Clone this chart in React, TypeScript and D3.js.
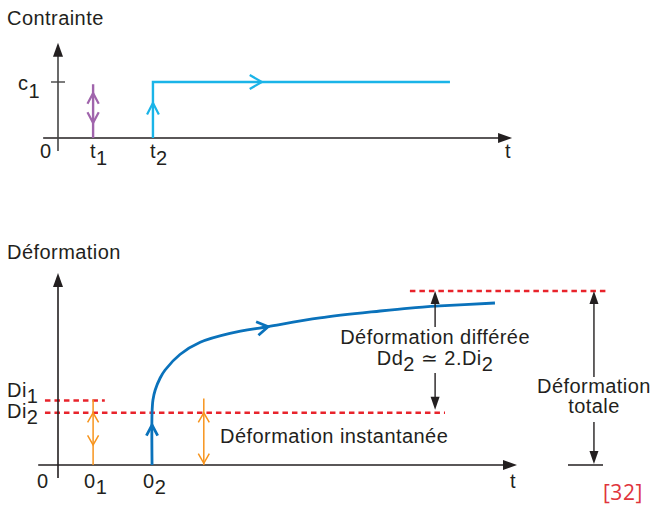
import React from "react";
import * as d3 from "d3";

// ---- data ----
const stressTimes = [0.78, 2.11]; // t1 (instant load/unload), t2 (sustained load)
const stressLabels = ["1", "2"];
const stressLevel = 1; // c1
const stressEnd = 8.71;

const loadTimes = [0.78, 2.09]; // 0_1, 0_2
const loadLabels = ["1", "2"];
const Di1 = 3.71;
const Di2 = 3.0;
const Dtot = 10;
const curveT = [2.09, 2.09, 2.11, 2.16, 2.27, 2.38, 2.71, 3.16, 3.82, 4.67, 5.82, 7.16, 7.82, 8.49, 9.71];
const curveD = [0, 3.0, 3.74, 4.31, 5.0, 5.46, 6.35, 7.05, 7.56, 7.95, 8.45, 8.85, 9.02, 9.14, 9.31];

const C_AXIS = "#231f20";
const C_PURPLE = "#a064ac";
const C_CYAN = "#1ab4e8";
const C_BLUE = "#0a72bb";
const C_ORANGE = "#f7941d";
const C_RED = "#e8232b";
const FONT = "'Liberation Sans', Arial, sans-serif";

const x = d3.scaleLinear().domain([0, 10]).range([58, 508]);
const yTop = d3.scaleLinear().domain([0, 1]).range([138, 82]);
const yBot = d3.scaleLinear().domain([0, 10]).range([465, 291]);

function Chevron({ tx, ty, angle, color, len = 12, half = 27, w = 2.2 }: any) {
  const a1 = angle + Math.PI - (half * Math.PI) / 180;
  const a2 = angle + Math.PI + (half * Math.PI) / 180;
  const d = `M${tx + len * Math.cos(a1)},${ty + len * Math.sin(a1)}L${tx},${ty}L${tx + len * Math.cos(a2)},${ty + len * Math.sin(a2)}`;
  return <path d={d} fill="none" stroke={color} strokeWidth={w} strokeLinejoin="miter" />;
}

function Head({ tx, ty, angle, color = C_AXIS, len = 14, hw = 5 }: any) {
  const bx = tx - len * Math.cos(angle);
  const by = ty - len * Math.sin(angle);
  const px = -Math.sin(angle) * hw;
  const py = Math.cos(angle) * hw;
  return <path d={`M${tx},${ty}L${bx + px},${by + py}L${bx - px},${by - py}Z`} fill={color} />;
}

const UP = -Math.PI / 2;
const DOWN = Math.PI / 2;
const RIGHT = 0;

const txt: any = { fontFamily: FONT, fontSize: 20, letterSpacing: 0.45, fill: C_AXIS };

export default function App() {
  const curveLine = d3
    .line<number>()
    .x((_, i) => x(curveT[i]))
    .y((_, i) => yBot(curveD[i]))
    .curve(d3.curveCatmullRom.alpha(0.5));
  const curvePath = curveLine(curveT) || "";

  const arrowIdx = 9;
  const cAng = Math.atan2(
    yBot(curveD[arrowIdx + 1]) - yBot(curveD[arrowIdx - 1]),
    x(curveT[arrowIdx + 1]) - x(curveT[arrowIdx - 1])
  );

  const xA2 = 3.24; // second orange arrow
  const xDd = 8.38; // differed deformation arrow
  const xTot = 11.91; // total deformation arrow

  return (
    <svg width={652} height={508} style={{ position: "absolute", left: 0, top: 0, background: "#fff" }}>
      {/* ===== TOP PANEL ===== */}
      <text x={7} y={25} {...txt}>Contrainte</text>
      {/* axes */}
      <line x1={x(-0.33)} x2={x(10.09) - 10} y1={yTop(0)} y2={yTop(0)} stroke={C_AXIS} strokeWidth={1.6} />
      <Head tx={x(10.09)} ty={yTop(0)} angle={RIGHT} />
      <line x1={x(0)} x2={x(0)} y1={yTop(-0.23)} y2={yTop(1.7) + 10} stroke="#444" strokeWidth={1.6} />
      <Head tx={x(0)} ty={yTop(1.7)} angle={UP} />
      <line x1={x(0) - 7} x2={x(0) + 7} y1={yTop(stressLevel)} y2={yTop(stressLevel)} stroke="#444" strokeWidth={1.4} />
      <text x={18} y={90} {...txt}>c<tspan dy={8}>1</tspan></text>
      <text x={40} y={158} {...txt}>0</text>
      {stressTimes.map((t, i) => (
        <text key={i} x={x(t) - 3} y={158} {...txt}>t<tspan dy={7}>{stressLabels[i]}</tspan></text>
      ))}
      <text x={505} y={158} {...txt}>t</text>
      {/* purple: instantaneous load/unload */}
      <line x1={x(stressTimes[0])} x2={x(stressTimes[0])} y1={yTop(0)} y2={yTop(0.96)} stroke={C_PURPLE} strokeWidth={2.4} />
      <Chevron tx={x(stressTimes[0])} ty={yTop(0.8)} angle={UP} color={C_PURPLE} len={12} half={28} />
      <Chevron tx={x(stressTimes[0])} ty={yTop(0.27)} angle={DOWN} color={C_PURPLE} len={12} half={28} />
      {/* cyan: sustained stress */}
      <path
        d={`M${x(stressTimes[1])},${yTop(0)}V${yTop(stressLevel)}H${x(stressEnd)}`}
        fill="none"
        stroke={C_CYAN}
        strokeWidth={2.4}
      />
      <Chevron tx={x(stressTimes[1])} ty={yTop(0.625)} angle={UP} color={C_CYAN} len={13} half={27} />
      <Chevron tx={x(4.53)} ty={yTop(stressLevel)} angle={RIGHT} color={C_CYAN} len={14} half={30} />

      {/* ===== BOTTOM PANEL ===== */}
      <text x={7} y={259} {...txt}>Déformation</text>
      {/* dashed lines */}
      <line x1={x(-0.29)} x2={x(1.04)} y1={yBot(Di1)} y2={yBot(Di1)} stroke={C_RED} strokeWidth={2.4} strokeDasharray="5.5,4" />
      <line x1={x(-0.29)} x2={x(8.6)} y1={yBot(Di2)} y2={yBot(Di2)} stroke={C_RED} strokeWidth={2.4} strokeDasharray="5.5,4" />
      <line x1={x(7.82)} x2={x(12.22)} y1={yBot(Dtot)} y2={yBot(Dtot)} stroke={C_RED} strokeWidth={2.4} strokeDasharray="5.5,4" />
      {/* axes */}
      <line x1={x(-0.44)} x2={x(10.2) - 10} y1={yBot(0)} y2={yBot(0)} stroke={C_AXIS} strokeWidth={1.6} />
      <Head tx={x(10.2)} ty={yBot(0)} angle={RIGHT} />
      <line x1={x(0)} x2={x(0)} y1={yBot(-0.75)} y2={yBot(11.03) + 10} stroke={C_AXIS} strokeWidth={1.6} />
      <Head tx={x(0)} ty={yBot(11.03)} angle={UP} />
      <text x={7} y={397} {...txt}>Di<tspan dy={6}>1</tspan></text>
      <text x={7} y={418} {...txt}>Di<tspan dy={6}>2</tspan></text>
      <text x={37} y={488} {...txt}>0</text>
      {loadTimes.map((t, i) => (
        <text key={i} x={x(t) - 9} y={488} {...txt}>0<tspan dy={6}>{loadLabels[i]}</tspan></text>
      ))}
      <text x={510} y={488} {...txt}>t</text>
      {/* orange instantaneous arrows */}
      <line x1={x(loadTimes[0])} x2={x(loadTimes[0])} y1={yBot(0)} y2={yBot(Di1) - 1} stroke={C_ORANGE} strokeWidth={1.5} />
      <Chevron tx={x(loadTimes[0])} ty={yBot(Di2)} angle={UP} color={C_ORANGE} len={11} half={30} w={1.5} />
      <Chevron tx={x(loadTimes[0])} ty={yBot(1.15)} angle={DOWN} color={C_ORANGE} len={11} half={30} w={1.5} />
      <line x1={x(xA2)} x2={x(xA2)} y1={yBot(0)} y2={yBot(Di1) - 2} stroke={C_ORANGE} strokeWidth={1.5} />
      <Chevron tx={x(xA2)} ty={yBot(Di2)} angle={UP} color={C_ORANGE} len={11} half={30} w={1.5} />
      <Chevron tx={x(xA2)} ty={yBot(0.1)} angle={DOWN} color={C_ORANGE} len={11} half={30} w={1.5} />
      <text x={220} y={443} {...txt}>Déformation instantanée</text>
      {/* creep curve */}
      <path d={curvePath} fill="none" stroke={C_BLUE} strokeWidth={2.8} />
      <Chevron tx={x(loadTimes[1])} ty={yBot(2.3)} angle={UP} color={C_BLUE} len={12} half={28} w={2.8} />
      <Chevron tx={x(curveT[arrowIdx])} ty={yBot(curveD[arrowIdx])} angle={cAng} color={C_BLUE} len={13} half={32} w={2.8} />
      {/* differed deformation arrow */}
      <line x1={x(xDd)} x2={x(xDd)} y1={yBot(Dtot) + 12} y2={327} stroke={C_AXIS} strokeWidth={1.4} />
      <Head tx={x(xDd)} ty={yBot(Dtot)} angle={UP} len={13} hw={4.5} />
      <line x1={x(xDd)} x2={x(xDd)} y1={373} y2={yBot(Di2) - 14} stroke={C_AXIS} strokeWidth={1.4} />
      <Head tx={x(xDd)} ty={yBot(Di2) - 3} angle={DOWN} len={13} hw={4.5} />
      <text x={x(xDd)} y={344} textAnchor="middle" {...txt}>Déformation différée</text>
      <text x={x(xDd)} y={365} textAnchor="middle" {...txt}>
        Dd<tspan dy={6}>2</tspan><tspan dy={-6}> ≃ 2.Di</tspan><tspan dy={6}>2</tspan>
      </text>
      {/* total deformation arrow */}
      <line x1={x(xTot)} x2={x(xTot)} y1={yBot(Dtot) + 12} y2={377} stroke={C_AXIS} strokeWidth={1.4} />
      <Head tx={x(xTot)} ty={yBot(Dtot)} angle={UP} len={13} hw={4.5} />
      <line x1={x(xTot)} x2={x(xTot)} y1={422} y2={yBot(0) - 12} stroke={C_AXIS} strokeWidth={1.4} />
      <Head tx={x(xTot)} ty={yBot(0) - 1} angle={DOWN} len={13} hw={4.5} />
      <line x1={568} x2={603} y1={yBot(0)} y2={yBot(0)} stroke={C_AXIS} strokeWidth={1.4} />
      <text x={x(xTot)} y={393} textAnchor="middle" {...txt}>Déformation</text>
      <text x={x(xTot)} y={413} textAnchor="middle" {...txt}>totale</text>
      <text x={603} y={500} fontFamily="'Open Sans', sans-serif" fontSize={21} letterSpacing={0.5} fill="#e0343c">[32]</text>
    </svg>
  );
}
